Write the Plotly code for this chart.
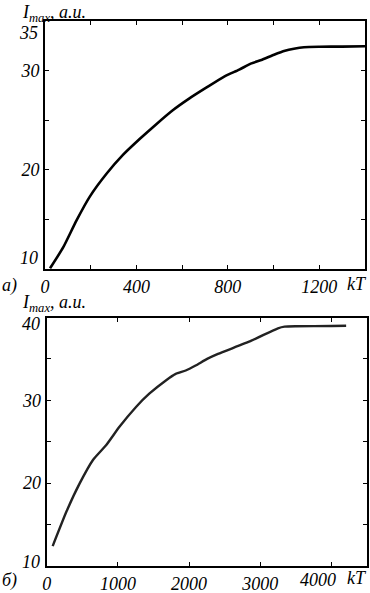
import plotly.graph_objects as go

# Panel a)
kT_a = [22, 80, 138, 196, 269, 341, 414, 487, 559, 632, 700, 784, 850, 900, 950, 1002, 1050, 1089, 1133, 1200, 1300, 1400]
I_a = [10.07, 12.2, 14.9, 17.3, 19.6, 21.5, 23.1, 24.6, 26.0, 27.2, 28.2, 29.4, 30.1, 30.7, 31.1, 31.6, 32.0, 32.2, 32.35, 32.4, 32.42, 32.45]
# Panel б)
kT_b = [84, 279, 465, 650, 837, 1022, 1255, 1441, 1674, 1813, 1953, 2092, 2254, 2407, 2875, 3249, 3342, 3500, 4000, 4207]
I_b = [12.4, 16.6, 20.0, 22.8, 24.6, 26.8, 29.2, 30.8, 32.4, 33.2, 33.6, 34.2, 35.0, 35.6, 37.2, 38.7, 38.9, 38.95, 38.97, 39.0]

xa_ticks = [0, 200, 400, 600, 800, 1000, 1200, 1400]
xa_text = ["0", "", "400", "", "800", "", "1200", ""]
ya_ticks = [10, 15, 20, 25, 30, 35]
ya_text = ["", "", "20", "", "30", ""]
xb_ticks = [0, 1000, 2000, 3000, 4000]
xb_text = ["0", "1000", "2000", "3000", ""]
yb_ticks = [10, 15, 20, 25, 30, 35, 40]
yb_text = ["", "", "20", "", "30", "", ""]

FONT = dict(family="Liberation Serif", size=18, color="black", style="italic")

fig = go.Figure()
fig.add_trace(go.Scatter(x=kT_a, y=I_a, mode="lines",
                         line=dict(color="black", width=2.6, shape="spline", smoothing=0.6),
                         xaxis="x", yaxis="y", showlegend=False))
fig.add_trace(go.Scatter(x=kT_b, y=I_b, mode="lines",
                         line=dict(color="#222", width=2.4, shape="spline", smoothing=0.5),
                         xaxis="x2", yaxis="y2", showlegend=False))

axis_common = dict(showline=True, linecolor="black", linewidth=2, mirror="allticks", ticks="inside",
                   ticklen=4, tickwidth=1, tickcolor="black", showgrid=False, zeroline=False,
                   tickfont=FONT, tickmode="array", automargin=False)

fig.update_layout(
    width=370, height=593, margin=dict(l=0, r=0, t=0, b=0),
    plot_bgcolor="white", paper_bgcolor="white", font=FONT,
    xaxis=dict(domain=[45/370, 365/370], range=[0, 1400], anchor="y", tickvals=xa_ticks, ticktext=xa_text, **axis_common),
    yaxis=dict(domain=[1-269/593, 1-21/593], range=[10, 35], anchor="x", tickvals=ya_ticks, ticktext=ya_text, **axis_common),
    xaxis2=dict(domain=[46.7/370, 367/370], range=[0, 4500], anchor="y2", tickvals=xb_ticks, ticktext=xb_text, **axis_common),
    yaxis2=dict(domain=[1-566/593, 1-317.5/593], range=[10, 40], anchor="x2", tickvals=yb_ticks, ticktext=yb_text, **axis_common),
)

anns = [
    dict(text="<i>I</i><sub><i>max</i></sub><i>, a.u.</i>", x=20/370, y=1-0/593, xanchor="left", yanchor="top", xref="paper", yref="paper"),
    dict(text="<i>I</i><sub><i>max</i></sub><i>, a.u.</i>", x=20/370, y=1-290/593, xanchor="left", yanchor="top", xref="paper", yref="paper"),
    dict(text="<i>kT</i>", x=357/370, y=1-284/593, xanchor="center", yanchor="middle", xref="paper", yref="paper"),
    dict(text="<i>kT</i>", x=357/370, y=1-578/593, xanchor="center", yanchor="middle", xref="paper", yref="paper"),
    dict(text="<i>a)</i>", x=0, y=1-285/593, xanchor="left", yanchor="middle", xref="paper", yref="paper"),
    dict(text="<i>б)</i>", x=0, y=1-580/593, xanchor="left", yanchor="middle", xref="paper", yref="paper"),
    # end-of-axis tick labels, pulled inward as in the original
    dict(text="35", x=0, y=35, xref="x domain", yref="y", xanchor="right", yanchor="middle", xshift=-5, yshift=-12),
    dict(text="10", x=0, y=10, xref="x domain", yref="y", xanchor="right", yanchor="middle", xshift=-5, yshift=11),
    dict(text="40", x=0, y=40, xref="x2 domain", yref="y2", xanchor="right", yanchor="middle", xshift=-5, yshift=-6),
    dict(text="10", x=0, y=10, xref="x2 domain", yref="y2", xanchor="right", yanchor="middle", xshift=-5, yshift=4),
    dict(text="4000", x=4000, y=0, xref="x2", yref="y2 domain", xanchor="center", yanchor="top", xshift=-13, yshift=-2),
]
for a in anns:
    fig.add_annotation(showarrow=False, font=FONT, **a)

fig.write_html("out.html", config={"displayModeBar": False},
               post_script="document.body.style.margin='0px';document.body.style.overflow='hidden';")
